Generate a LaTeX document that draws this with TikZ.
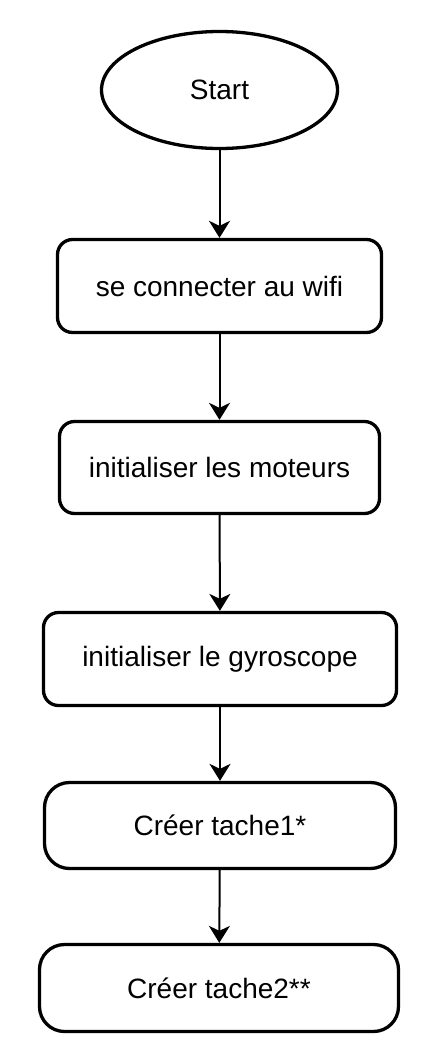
\documentclass[tikz,border=0pt]{standalone}
\usepackage{fontspec}
\setmainfont{Liberation Sans}
\usetikzlibrary{shapes.geometric,arrows.meta}
\begin{document}
\begin{tikzpicture}[x=1pt, y=-1pt,
  blk/.style={draw, line width=3.3pt, rounded corners=15pt, align=center,
    font=\fontsize{28}{34}\selectfont},
  lnk/.style={line width=2pt, -{Stealth[length=17pt, width=21pt, inset=5pt]}}]
\useasboundingbox (0,0) rectangle (436,1061);
\node[blk, ellipse, rounded corners=0pt, minimum width=236pt, minimum height=117pt] (blk0) at (219.5,90){Start};
\node[blk, minimum width=324pt, minimum height=93pt] (blk1) at (219.5,286){se connecter au wifi};
\node[blk, minimum width=320pt, minimum height=92pt] (blk2) at (219.5,467.5){initialiser les moteurs};
\node[blk, minimum width=353pt, minimum height=93pt] (blk3) at (220,659){initialiser le gyroscope};
\node[blk, rounded corners=25pt, minimum width=351pt, minimum height=86pt] (blk4) at (220,825.5){Créer tache1*};
\node[blk, rounded corners=25pt, minimum width=359pt, minimum height=87pt] (blk5) at (219,988){Créer tache2**};
\draw[lnk](blk0) -- (blk1);
\draw[lnk](blk1) -- (blk2);
\draw[lnk](blk2) -- (blk3);
\draw[lnk](blk3) -- (blk4);
\draw[lnk](blk4) -- (blk5);
\end{tikzpicture}
\end{document}
